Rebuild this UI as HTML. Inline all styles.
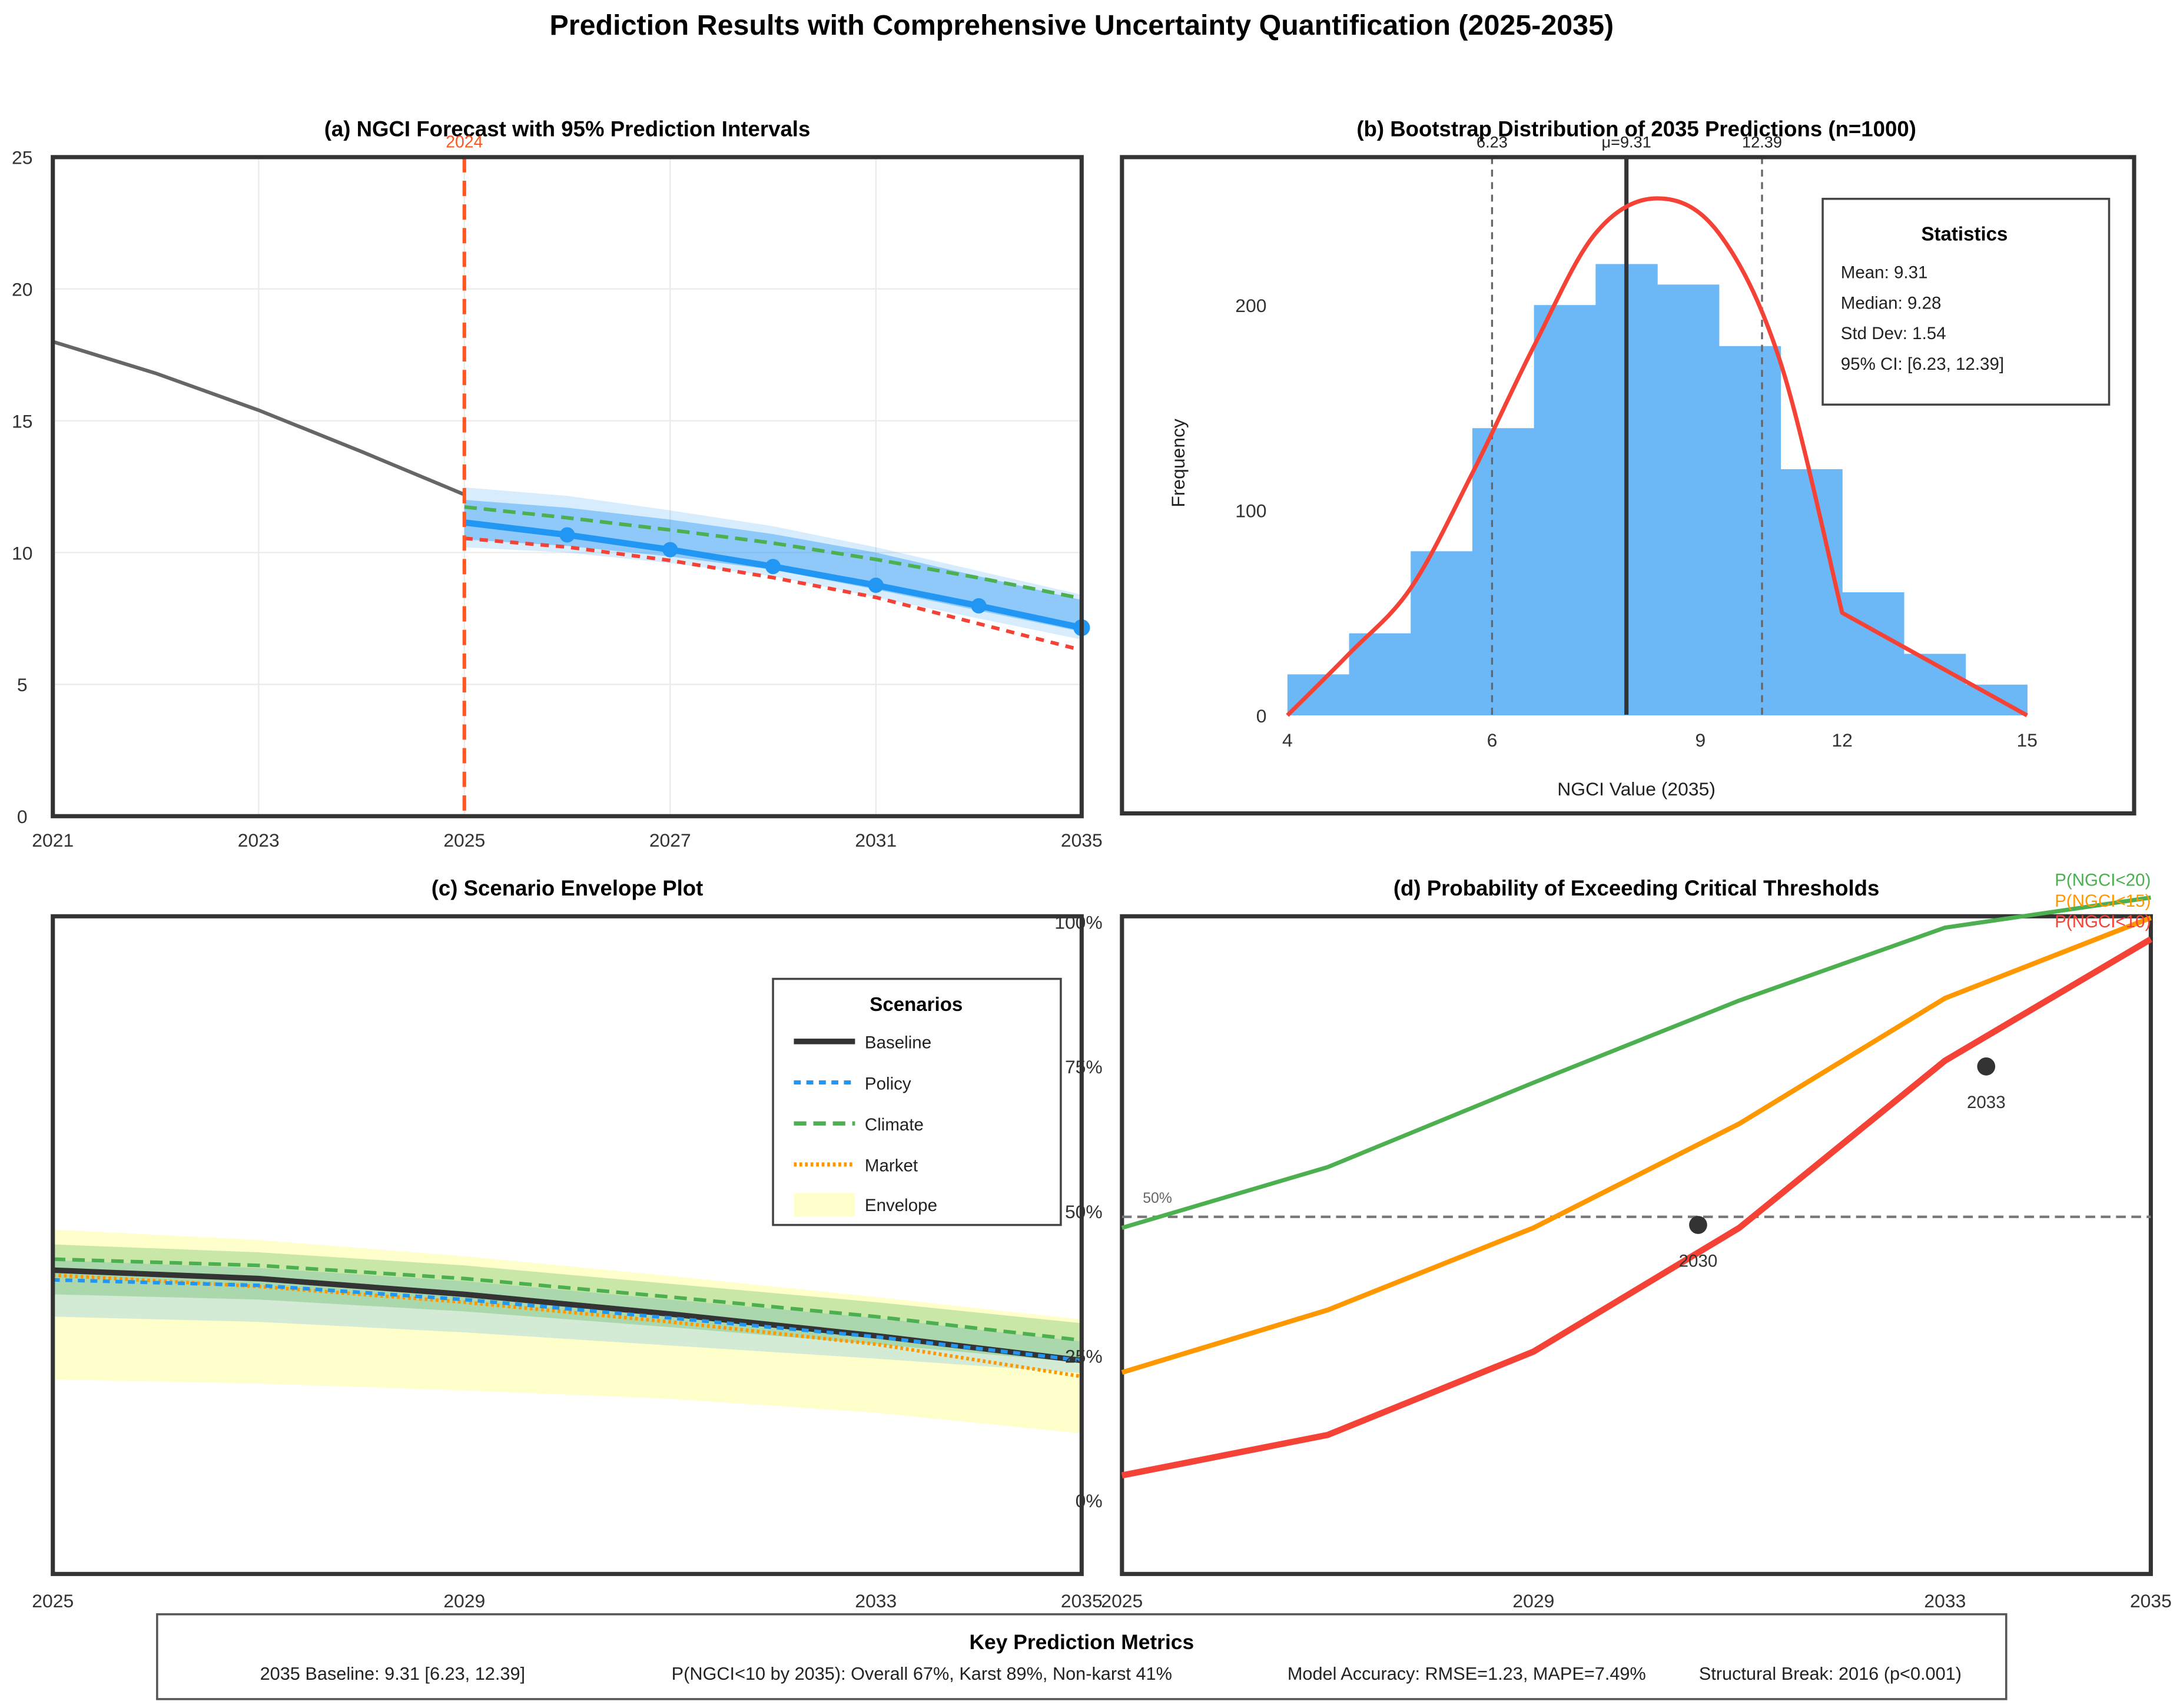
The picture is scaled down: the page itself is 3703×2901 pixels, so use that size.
<!DOCTYPE html>
<html><head><meta charset="utf-8"><style>
html,body{margin:0;padding:0;background:#fff;}
svg{display:block;font-family:"Liberation Sans",sans-serif;}
</style></head><body>
<svg id="fig" xmlns="http://www.w3.org/2000/svg" width="3703" height="2901" viewBox="0 0 1568 1228.4">
<rect x="0" y="0" width="1568" height="1228.4" fill="#fff"/>
<text x="778" y="25" text-anchor="middle" font-size="20.5" font-weight="bold" fill="#000">Prediction Results with Comprehensive Uncertainty Quantification (2025-2035)</text>

<g id="pa">
<text x="408" y="98" text-anchor="middle" font-size="15.5" font-weight="bold">(a) NGCI Forecast with 95% Prediction Intervals</text>
</g>
<g id="pb">
<text x="1177" y="98" text-anchor="middle" font-size="15.5" font-weight="bold">(b) Bootstrap Distribution of 2035 Predictions (n=1000)</text>
</g>
<g id="pc">
<text x="408" y="644" text-anchor="middle" font-size="15.5" font-weight="bold">(c) Scenario Envelope Plot</text>
</g>
<g id="pd">
<text x="1177" y="644" text-anchor="middle" font-size="15.5" font-weight="bold">(d) Probability of Exceeding Critical Thresholds</text>
</g>

<g>
<rect x="113" y="1161" width="1330" height="61" fill="#fff" stroke="#555" stroke-width="1.5"/>
<text x="778" y="1186" text-anchor="middle" font-size="15" font-weight="bold">Key Prediction Metrics</text>
<text x="187" y="1208" font-size="13" fill="#222">2035 Baseline: 9.31 [6.23, 12.39]</text>
<text x="483" y="1208" font-size="13" fill="#222">P(NGCI&lt;10 by 2035): Overall 67%, Karst 89%, Non-karst 41%</text>
<text x="926" y="1208" font-size="13" fill="#222">Model Accuracy: RMSE=1.23, MAPE=7.49%</text>
<text x="1222" y="1208" font-size="13" fill="#222">Structural Break: 2016 (p&lt;0.001)</text>
</g>
</svg>
<script>
// ---------- Panel A data ----------
const aHistIdx = [0,1,2,3,4];
const aHist = [18.0,16.8,15.4,13.83,12.2];
const aFcIdx = [4,5,6,7,8,9,10];
const aForecast = [11.14,10.67,10.11,9.47,8.76,7.98,7.15];
const aOptimistic = [11.73,11.32,10.86,10.36,9.74,9.04,8.26];
const aPessimistic = [10.54,10.21,9.7,9.05,8.3,7.3,6.3];
const aOuterHi = [12.47,12.15,11.6,11.0,10.2,9.3,8.4];
const aOuterLo = [10.2,10.0,9.6,9.1,8.3,7.5,6.7];
const aInnerHi = [12.0,11.7,11.25,10.7,10.0,9.1,8.2];
const aInnerLo = [10.5,10.25,9.85,9.35,8.6,7.8,7.0];
const aYTicks = [0,5,10,15,20,25];
const aXTickIdx = [0,2,4,6,8,10];
const aXTickLabels = ["2021","2023","2025","2027","2031","2035"];
// ---------- Panel B data ----------
const bCounts = [20,40,80,140,200,220,210,180,120,60,30,15];
const bCurveX = [0,1,2,3,4,5,6,7,8,9,12];
const bCurveY = [0,30,62,118,180,235,252,235,172,50,0];
const bXTickPos = [0,3.32,6.7,9,12];
const bXTickLabels = ["4","6","9","12","15"];
const bYTicks = [0,100,200];
const bCiLow = 3.32, bMean = 5.5, bCiHigh = 7.7;
// ---------- Panel C data ----------
const cBaseline = [11.52,11.2,10.6,9.85,9.02,8.08];
const cPolicy = [11.15,10.94,10.4,9.7,8.98,8.08];
const cClimate = [11.94,11.7,11.2,10.5,9.75,8.85];
const cMarket = [11.33,10.9,10.3,9.55,8.7,7.47];
const cEnvHi = [13.07,12.67,12.05,11.3,10.5,9.64];
const cEnvLo = [7.36,7.2,6.94,6.62,6.09,5.3];
const cClimHi = [12.5,12.2,11.7,11.0,10.3,9.5];
const cClimLo = [10.6,10.4,9.95,9.35,8.7,8.0];
const cPolHi = [11.9,11.6,11.1,10.4,9.7,8.8];
const cPolLo = [9.75,9.55,9.15,8.65,8.15,7.6];
const cXTickIdx = [0,2,4,5];
const cXTickLabels = ["2025","2029","2033","2035"];
// ---------- Panel D data ----------
const dP20 = [47.1,57.6,72.2,86.4,99.0,104.2];
const dP15 = [22.1,32.9,47.1,65.1,86.8,100.7];
const dP10 = [4.3,11.3,25.7,47.1,76.0,97.0];
const dMarkX = [2.8,4.2];
const dMarkY = [47.6,75.0];
const dMarkLabels = ["2030","2033"];
const dYTicks = [0,25,50,75,100];
const dXTickIdx = [0,2,4,5];
const dXTickLabels = ["2025","2029","2033","2035"];

const NS = "http://www.w3.org/2000/svg";
function mk(parent, tag, attrs, txt){
  const e = document.createElementNS(NS, tag);
  for (const k in attrs) e.setAttribute(k, attrs[k]);
  if (txt !== undefined) e.textContent = txt;
  parent.appendChild(e);
  return e;
}
function pts(xs, ys, fx, fy){ return xs.map((x,i)=>fx(x)+","+fy(ys[i])).join(" "); }
function band(xs, hi, lo, fx, fy){
  const top = xs.map((x,i)=>fx(x)+","+fy(hi[i]));
  const bot = xs.map((x,i)=>fx(x)+","+fy(lo[i])).reverse();
  return top.concat(bot).join(" ");
}
function smoothPath(xs, ys, fx, fy, straightFrom){
  const P = xs.map((x,i)=>[fx(x),fy(ys[i])]);
  let d = "M"+P[0][0]+","+P[0][1];
  for(let i=0;i<P.length-1;i++){
    if(i>=straightFrom){ d += " L"+P[i+1][0]+","+P[i+1][1]; continue; }
    const p0=P[Math.max(0,i-1)], p1=P[i], p2=P[i+1];
    const p3 = (i+2<P.length && i+1<straightFrom) ? P[i+2] : p2;
    const c1=[p1[0]+(p2[0]-p0[0])/6, p1[1]+(p2[1]-p0[1])/6];
    const c2=[p2[0]-(p3[0]-p1[0])/6, p2[1]-(p3[1]-p1[1])/6];
    d += " C"+c1[0]+","+c1[1]+" "+c2[0]+","+c2[1]+" "+p2[0]+","+p2[1];
  }
  return d;
}

// ===== Panel A =====
(function(){
  const g = document.getElementById('pa');
  const X0=38, X1=778, Y0=587, Y1=113;
  const xa = i => X0 + i*(X1-X0)/10;
  const ya = v => Y0 - v*(Y0-Y1)/25;
  aYTicks.forEach(v=>{
    const l = mk(g,'line',{x1:X0,x2:X1,y1:ya(v),y2:ya(v),stroke:'#ebebeb','stroke-width':1});
    
    
    const t = mk(g,'text',{x:16,y:ya(v)+5,'text-anchor':'middle','font-size':13.5,fill:'#333'},String(v));
    
    
  });
  aXTickIdx.forEach((i,k)=>{
    const l = mk(g,'line',{x1:xa(i),x2:xa(i),y1:Y1,y2:Y0,stroke:'#ebebeb','stroke-width':1});
    
    
    const t = mk(g,'text',{x:xa(i),y:609,'text-anchor':'middle','font-size':13.5,fill:'#333'},aXTickLabels[k]);
    
    
  });
  const ob = mk(g,'polygon',{points:band(aFcIdx,aOuterHi,aOuterLo,xa,ya),fill:'#2196f3','fill-opacity':0.18});
  
  
  const ib = mk(g,'polygon',{points:band(aFcIdx,aInnerHi,aInnerLo,xa,ya),fill:'#2196f3','fill-opacity':0.4});
  
  
  const h = mk(g,'polyline',{points:pts(aHistIdx,aHist,xa,ya),fill:'none',stroke:'#666','stroke-width':2.6});
  
  
  const gr = mk(g,'polyline',{points:pts(aFcIdx,aOptimistic,xa,ya),fill:'none',stroke:'#4caf50','stroke-width':2.6,'stroke-dasharray':'9,5'});
  
  
  const rd = mk(g,'polyline',{points:pts(aFcIdx,aPessimistic,xa,ya),fill:'none',stroke:'#f44336','stroke-width':2.6,'stroke-dasharray':'6,5'});
  
  
  const fc = mk(g,'polyline',{points:pts(aFcIdx,aForecast,xa,ya),fill:'none',stroke:'#2196f3','stroke-width':4.5});
  
  
  aFcIdx.forEach((i,k)=>{
    if(k===0) return;
    const c = mk(g,'circle',{cx:xa(i),cy:ya(aForecast[k]),r:k===aFcIdx.length-1?6:5.5,fill:'#2196f3'});
    
    
  });
  const vl = mk(g,'line',{x1:xa(4),x2:xa(4),y1:Y1,y2:Y0,stroke:'#ff5722','stroke-width':2.6,'stroke-dasharray':'11,6'});
  
  
  const vt = mk(g,'text',{x:xa(4),y:106,'text-anchor':'middle','font-size':12,fill:'#ff5722'},'2024');
  
  
  const fr = mk(g,'rect',{x:X0,y:Y1,width:X1-X0,height:Y0-Y1,fill:'none',stroke:'#333','stroke-width':3});
  
  
})();

// ===== Panel B =====
(function(){
  const g = document.getElementById('pb');
  const bx = b => 926 + b*(1458-926)/12;
  const by = v => 514.5 - v*1.4755;
  bCounts.forEach((c,i)=>{
    const r = mk(g,'rect',{x:bx(i),y:by(c),width:bx(i+1)-bx(i)+0.3,height:by(0)-by(c),fill:'#6cb8f6'});
    
    
  });
  [[bCiLow,'6.23','ci-lower-line'],[bCiHigh,'12.39','ci-upper-line']].forEach(d=>{
    const l = mk(g,'line',{x1:bx(d[0]),x2:bx(d[0]),y1:113,y2:514,stroke:'#666','stroke-width':1.4,'stroke-dasharray':'5,4'});
    
    
    const t = mk(g,'text',{x:bx(d[0]),y:106,'text-anchor':'middle','font-size':11.5,fill:'#222'},d[1]);
    
    
  });
  const ml = mk(g,'line',{x1:bx(bMean),x2:bx(bMean),y1:113,y2:514,stroke:'#333','stroke-width':3});
  
  
  const mt = mk(g,'text',{x:bx(bMean),y:106,'text-anchor':'middle','font-size':11.5,fill:'#222'},'μ=9.31');
  
  
  const cv = mk(g,'path',{d:smoothPath(bCurveX,bCurveY,bx,by,bCurveX.length-2),fill:'none',stroke:'#f44336','stroke-width':3,'stroke-linejoin':'round'});
  
  
  bYTicks.forEach(v=>{
    const t = mk(g,'text',{x:911,y:by(v)+5,'text-anchor':'end','font-size':13.5,fill:'#333'},String(v));
    
    
  });
  bXTickPos.forEach((p,k)=>{
    const t = mk(g,'text',{x:bx(p),y:537,'text-anchor':'middle','font-size':13.5,fill:'#333'},bXTickLabels[k]);
    
    
  });
  const yl = mk(g,'text',{x:852,y:333,'text-anchor':'middle','font-size':13.5,fill:'#222',transform:'rotate(-90 852 333)'},'Frequency');
  
  
  const xl = mk(g,'text',{x:1177,y:572,'text-anchor':'middle','font-size':13.5,fill:'#222'},'NGCI Value (2035)');
  
  
  const sb = mk(g,'rect',{x:1311,y:143,width:206,height:148,fill:'#fff',stroke:'#444','stroke-width':1.5});
  
  
  const st = mk(g,'text',{x:1413,y:173,'text-anchor':'middle','font-size':14,'font-weight':'bold'},'Statistics');
  
  
  ['Mean: 9.31','Median: 9.28','Std Dev: 1.54','95% CI: [6.23, 12.39]'].forEach((s,i)=>{
    const t = mk(g,'text',{x:1324,y:200+i*22,'font-size':12.5,fill:'#222'},s);
    
    
  });
  const fr = mk(g,'rect',{x:807,y:113,width:728,height:472,fill:'none',stroke:'#333','stroke-width':3});
  
  
})();

// ===== Panel C =====
(function(){
  const g = document.getElementById('pc');
  const idx = [0,1,2,3,4,5];
  const xc = i => 38 + i*148;
  const yc = v => 1131 - v*18.88;
  const e = mk(g,'polygon',{points:band(idx,cEnvHi,cEnvLo,xc,yc),fill:'#ffff99','fill-opacity':0.5});
  
  
  const pb = mk(g,'polygon',{points:band(idx,cPolHi,cPolLo,xc,yc),fill:'#2196f3','fill-opacity':0.2});
  
  
  const cb = mk(g,'polygon',{points:band(idx,cClimHi,cClimLo,xc,yc),fill:'#4caf50','fill-opacity':0.3});
  
  
  const series = [
    [cClimate,'#4caf50',2.6,'9,5','climate-line'],
    [cBaseline,'#333',4,'','baseline-line'],
    [cMarket,'#ff9800',2.6,'2,2','market-line'],
    [cPolicy,'#2196f3',2.6,'5,4','policy-line']
  ];
  series.forEach(s=>{
    const attrs = {points:pts(idx,s[0],xc,yc),fill:'none',stroke:s[1],'stroke-width':s[2]};
    if(s[3]) attrs['stroke-dasharray']=s[3];
    const l = mk(g,'polyline',attrs);
    
    
  });
  cXTickIdx.forEach((i,k)=>{
    const t = mk(g,'text',{x:xc(i),y:1156,'text-anchor':'middle','font-size':13.5,fill:'#333'},cXTickLabels[k]);
    
    
  });
  const lg = mk(g,'rect',{x:556,y:704,width:207,height:177,fill:'#fff',stroke:'#444','stroke-width':1.5});
  
  
  const lt = mk(g,'text',{x:659,y:727,'text-anchor':'middle','font-size':14,'font-weight':'bold'},'Scenarios');
  
  
  const items = [['Baseline','#333',4,''],['Policy','#2196f3',3,'5,4'],['Climate','#4caf50',3,'9,5'],['Market','#ff9800',3,'2,2']];
  items.forEach((it,i)=>{
    const y = 749 + i*29.5;
    const l = mk(g,'line',{x1:571,x2:615,y1:y,y2:y,stroke:it[1],'stroke-width':it[2]});
    if(it[3]) l.setAttribute('stroke-dasharray',it[3]);
    
    
    const t = mk(g,'text',{x:622,y:y+5,'font-size':12.5,fill:'#222'},it[0]);
    
    
  });
  const es = mk(g,'rect',{x:571,y:858,width:44,height:17,fill:'#ffff99','fill-opacity':0.5});
  
  
  const et = mk(g,'text',{x:622,y:871,'font-size':12.5,fill:'#222'},'Envelope');
  
  
  const fr = mk(g,'rect',{x:38,y:659,width:740,height:473,fill:'none',stroke:'#333','stroke-width':3});
  
  
})();

// ===== Panel D =====
(function(){
  const g = document.getElementById('pd');
  const idx = [0,1,2,3,4,5];
  const xd = i => 807 + i*148;
  const yd = v => 1079 - v*4.16;
  const fr = mk(g,'rect',{x:807,y:659,width:740,height:473,fill:'none',stroke:'#333','stroke-width':3});
  
  
  const hl = mk(g,'line',{x1:807,x2:1547,y1:yd(49),y2:yd(49),stroke:'#777','stroke-width':1.8,'stroke-dasharray':'7,4'});
  
  
  const hlt = mk(g,'text',{x:822,y:865,'font-size':10.5,fill:'#666'},'50%');
  
  
  [[dP20,'#4caf50',3,'p20-line'],[dP15,'#ff9800',3.5,'p15-line'],[dP10,'#f44336',4.5,'p10-line']].forEach(s=>{
    const l = mk(g,'polyline',{points:pts(idx,s[0],xd,yd),fill:'none',stroke:s[1],'stroke-width':s[2]});
    
    
  });
  dMarkX.forEach((x,k)=>{
    const c = mk(g,'circle',{cx:xd(x),cy:yd(dMarkY[k]),r:6.5,fill:'#333'});
    
    
    const t = mk(g,'text',{x:xd(x),y:yd(dMarkY[k])+30,'text-anchor':'middle','font-size':12.5,fill:'#333'},dMarkLabels[k]);
    
    
  });
  dYTicks.forEach(v=>{
    const t = mk(g,'text',{x:793,y:yd(v)+5,'text-anchor':'end','font-size':13.5,fill:'#333'},v+'%');
    
    
  });
  dXTickIdx.forEach((i,k)=>{
    const t = mk(g,'text',{x:xd(i),y:1156,'text-anchor':'middle','font-size':13.5,fill:'#333'},dXTickLabels[k]);
    
    
  });
  [['P(NGCI<20)','#4caf50',637],['P(NGCI<15)','#ff9800',652],['P(NGCI<10)','#f44336',667]].forEach(s=>{
    const t = mk(g,'text',{x:1547,y:s[2],'text-anchor':'end','font-size':12.5,fill:s[1]},s[0]);
    
    
  });
})();
</script>
</body></html>
